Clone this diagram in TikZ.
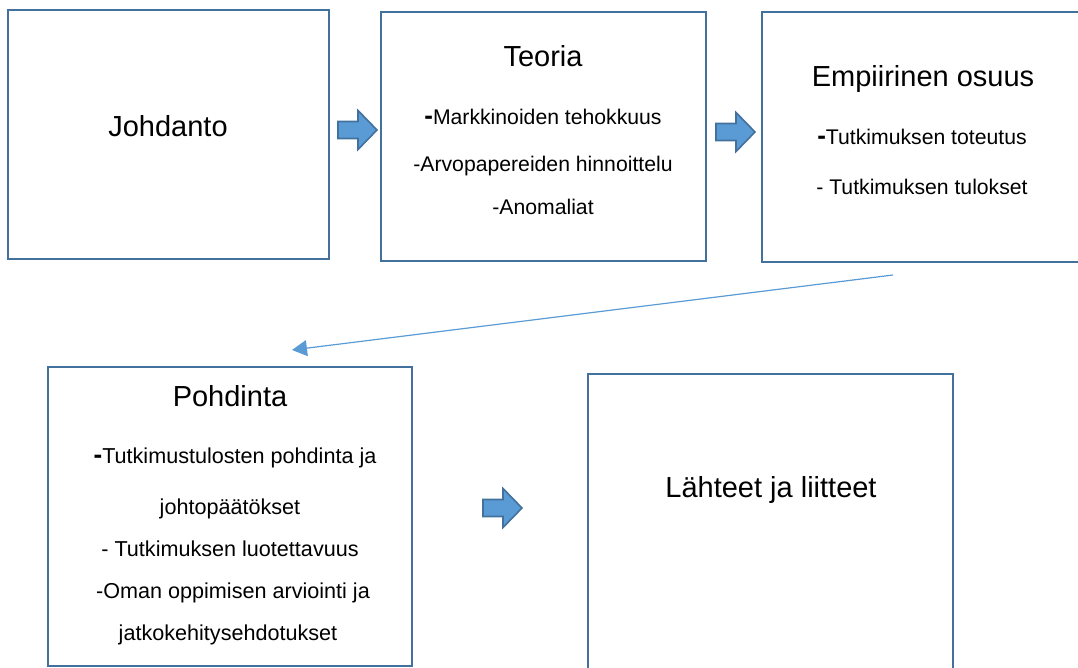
\documentclass[tikz,border=0pt]{standalone}
\usepackage{fontspec}
\setmainfont{Liberation Sans}
\usetikzlibrary{arrows.meta}
\definecolor{boxline}{RGB}{65,113,156}
\definecolor{arrowfill}{RGB}{91,155,213}
\definecolor{thinline}{RGB}{91,155,213}
\tikzset{
  panel/.style={draw=boxline, line width=2.4pt, fill=white, minimum width=0pt},
  ttl/.style={anchor=base, font=\fontsize{29}{32}\selectfont},
  itm/.style={anchor=base, font=\fontsize{21.2}{24}\selectfont},
  itmb/.style={anchor=base, font=\fontsize{21.6}{24}\selectfont},
  blockarrow/.style={draw=boxline, fill=arrowfill, line width=1.6pt, line join=miter},
  link/.style={draw=thinline, line width=1.2pt, -{Triangle[length=15pt,width=16pt]}}
}
\newcommand{\bdash}{{\fontsize{26}{26}\selectfont\bfseries -}}
\begin{document}
\begin{tikzpicture}[x=1pt,y=-1pt]
\useasboundingbox (0,0) rectangle (1078,668);
\clip (0,0) rectangle (1078,668);
% boxes
\path[panel] (8,10) rectangle (329,259);
\node[inner sep=0, minimum width=321pt, minimum height=249pt] (b1) at (168.5,134.5) {};
\path[panel] (381,12) rectangle (706,261);
\node[inner sep=0, minimum width=325pt, minimum height=249pt] (b2) at (543.5,136.5) {};
\path[panel] (762,12) rectangle (1090,262);
\node[inner sep=0, minimum width=328pt, minimum height=250pt] (b3) at (926,137) {};
\path[panel] (48,367) rectangle (412,666);
\node[inner sep=0, minimum width=364pt, minimum height=299pt] (b4) at (230,516.5) {};
\path[panel] (588,374) rectangle (953,690);
\node[inner sep=0, minimum width=365pt, minimum height=316pt] (b5) at (770.5,532) {};
% texts
\node[ttl] (t1) at (168,137) {Johdanto};
\node[ttl] (t2) at (543,67) {Teoria};
\node[itm] (t2a) at (543,125) {\bdash Markkinoiden tehokkuus};
\node[itm] (t2b) at (543,172) {-Arvopapereiden hinnoittelu};
\node[itm] (t2c) at (543,215) {-Anomaliat};
\node[ttl] (t3) at (923,87) {Empiirinen osuus};
\node[itm] (t3a) at (922,145) {\bdash Tutkimuksen toteutus};
\node[itm] (t3b) at (922,195) {- Tutkimuksen tulokset};
\node[ttl] (t4) at (230,406) {Pohdinta};
\node[itmb] (t4a) at (235,463) {\bdash Tutkimustulosten pohdinta ja};
\node[itmb] (t4b) at (230,514) {johtopäätökset};
\node[itmb] (t4c) at (230,556) {- Tutkimuksen luotettavuus};
\node[itmb] (t4d) at (233,598) {-Oman oppimisen arviointi ja};
\node[itmb] (t4e) at (228,640) {jatkokehitysehdotukset};
\node[ttl] (t5) at (771,497) {Lähteet ja liitteet};
% block arrows
\foreach \n/\x/\y in {a1/338/130, a2/716/132, a3/483/508}{
  \path[blockarrow] (\x,\y-8.5) -- ++(20,0) -- ++(0,-11) -- ++(19,19.5) -- ++(-19,19.5) -- ++(0,-11) -- ++(-20,0) -- cycle;
  \coordinate (\n) at (\x+19.5,\y);
}
% thin connector
\coordinate (s) at (893,275);
\coordinate (e) at (292,350);
\draw[link] (s) -- (e);
\end{tikzpicture}
\end{document}
